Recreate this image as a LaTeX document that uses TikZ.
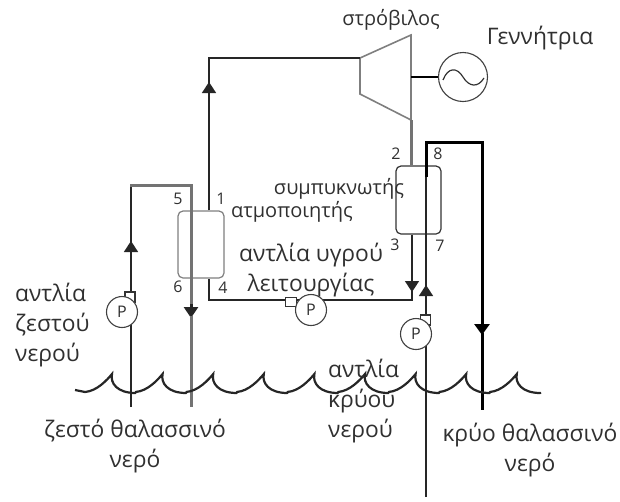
\documentclass[tikz,border=0pt]{standalone}
\usepackage{fontspec}
\setmainfont{Open Sans}
\usetikzlibrary{arrows.meta}
\definecolor{linegray}{HTML}{7F7F7F}
\definecolor{textgray}{HTML}{303030}
\tikzset{
    pipe/.style={draw=black!85,line width=1.6pt},
    hotpipe/.style={draw=black!55,line width=3pt},
    coldpipe/.style={draw=black,line width=3pt},
    flow/.style={-{Triangle[length=11pt,width=14pt]}},
    exchanger/.style={draw,rounded corners=5pt,line width=1.2pt,fill=white,minimum width=46pt,minimum height=67pt,inner sep=0pt},
    pump/.style={draw=black!75,circle,line width=1.1pt,fill=white,minimum size=31pt,inner sep=0pt,text=textgray,font=\fontsize{16}{18}\selectfont},
    stub/.style={draw=black!80,line width=1.2pt,fill=white,minimum width=10pt,minimum height=10pt,inner sep=0pt},
    label/.style={text=textgray,inner sep=0pt,align=left,font=\fontsize{22.8}{30}\selectfont},
    smalllabel/.style={label,font=\fontsize{20}{24}\selectfont},
    num/.style={text=textgray,inner sep=0pt,font=\fontsize{16}{18}\selectfont}
}
\begin{document}
\begin{tikzpicture}[x=1pt,y=-1pt]
    \useasboundingbox (0,0) rectangle (620,501);
    % Points of the pipes
    \coordinate (evapin) at (209,58);
    \coordinate (evapcorner) at (209,300);
    \coordinate (condcorner) at (412,300);
    \coordinate (turbout) at (411,120);
    \coordinate (hotbottom) at (131,407);
    \coordinate (hottop) at (131,185);
    \coordinate (hotturn) at (191,185);
    \coordinate (hotout) at (191,407);
    \coordinate (coldbottom) at (426,497);
    \coordinate (coldtop) at (426,175);
    \coordinate (coldturn) at (426,142);
    \coordinate (coldcorner) at (482,142);
    \coordinate (coldout) at (482,410);

    % Exchangers
    \node[exchanger,draw=linegray] (evap) at (201,244.5) {};
    \node[exchanger,draw=black!80,minimum width=45pt,minimum height=68pt] (cond) at (418.5,200) {};

    % Turbine
    \coordinate (tleft) at (360,58);
    \coordinate (ttop) at (411,35);
    \coordinate (tbottom) at (411,120);
    \coordinate (tlow) at (360,94);
    \draw[draw=linegray,line width=1.6pt] (tleft) -- (ttop) -- (tbottom) -- (tlow) -- cycle;

    % Working fluid
    \draw[pipe,flow] (evap.north -| evapin) -- (209,82);
    \draw[pipe] (209,92) -- (evapin) -- (tleft);
    \draw[hotpipe] (turbout) -- (cond.north -| turbout);
    \draw[pipe,flow] (cond.south -| condcorner) -- (412,292);
    \draw[pipe] (412,290) -- (condcorner) -- (evapcorner) -- (evap.south -| evapcorner);

    % Warm sea water
    \draw[pipe,flow] (hotbottom) -- (131,241);
    \draw[pipe] (131,250) -- (hottop);
    \draw[hotpipe,line cap=rect] (hottop) -- (hotturn) -- (191,306);
    \draw[hotpipe,draw=black!85,flow] (191,304) -- (191,318);
    \draw[hotpipe] (191,316) -- (hotout);

    % Cold sea water
    \draw[pipe,flow] (coldbottom) -- (426,285);
    \draw[pipe] (426,295) -- (coldtop);
    \draw[coldpipe,line cap=rect] (coldtop) -- (coldturn) -- (coldcorner) -- (482,322);
    \draw[coldpipe,-{Triangle[length=11pt,width=15pt]}] (482,322) -- (482,335);
    \draw[coldpipe] (482,333) -- (coldout);

    % Generator
    \node[pump,minimum size=49pt] (gen) at (463,77) {};
    \draw[line width=1.8pt,black] (tbottom |- gen) -- (gen.west);
    \draw[line width=1.2pt,black!80] (443,80) .. controls (448,67) and (457,67) .. (gen.center) .. controls (469,87) and (478,88) .. (484,78);

    % Pumps
    \node[stub] (hotstub) at (130,297) {};
    \node[pump] (hotpump) at (122,312) {P};
    \node[stub,minimum height=9pt,minimum width=11pt] (fluidstub) at (291,302) {};
    \node[pump] (fluidpump) at (311,310) {P};
    \node[stub] (coldstub) at (425.5,320) {};
    \node[pump] (coldpump) at (416,334) {P};

    % Sea surface
    \draw[line width=2.2pt,black!85] (75,390) -- (85,392);
    \foreach \i in {0,...,8}{
        \pgfmathsetmacro{\px}{112+50.6*\i}
        \draw[line width=2.2pt,black!85,line cap=round] (\px-27,392) .. controls (\px-15,391) and (\px-5,380) .. (\px,374) .. controls (\px-2,383) and (\px+5,393) .. (\px+23.6,393);
    }

    % Labels
    \node[smalllabel] (turblabel) at (391,20) {στρόβιλος};
    \node[label] (genlabel) at (540,38) {Γεννήτρια};
    \node[smalllabel] (condlabel) at (339,189) {συμπυκνωτής};
    \node[smalllabel] (evaplabel) at (292,212) {ατμοποιητής};
    \node[label,align=center] (fluidlabel) at (311,270) {αντλία υγρού\\λειτουργίας};
    \node[label,anchor=west] (hotpumplabel) at (15,325) {αντλία\\ζεστού\\νερού};
    \node[label,anchor=west] (coldpumplabel) at (328,401) {αντλία\\κρύου\\νερού};
    \node[label,align=center] (hotlabel) at (135,446) {ζεστό θαλασσινό\\νερό};
    \node[label,align=center] (coldlabel) at (530,450) {κρύο θαλασσινό\\νερό};
    \node[num] (n1) at (221,199) {1};
    \node[num] (n2) at (396,154) {2};
    \node[num] (n3) at (395,245) {3};
    \node[num] (n4) at (223,288) {4};
    \node[num] (n5) at (178,199) {5};
    \node[num] (n6) at (178,287) {6};
    \node[num] (n7) at (440,246) {7};
    \node[num] (n8) at (438,154) {8};
\end{tikzpicture}
\end{document}
